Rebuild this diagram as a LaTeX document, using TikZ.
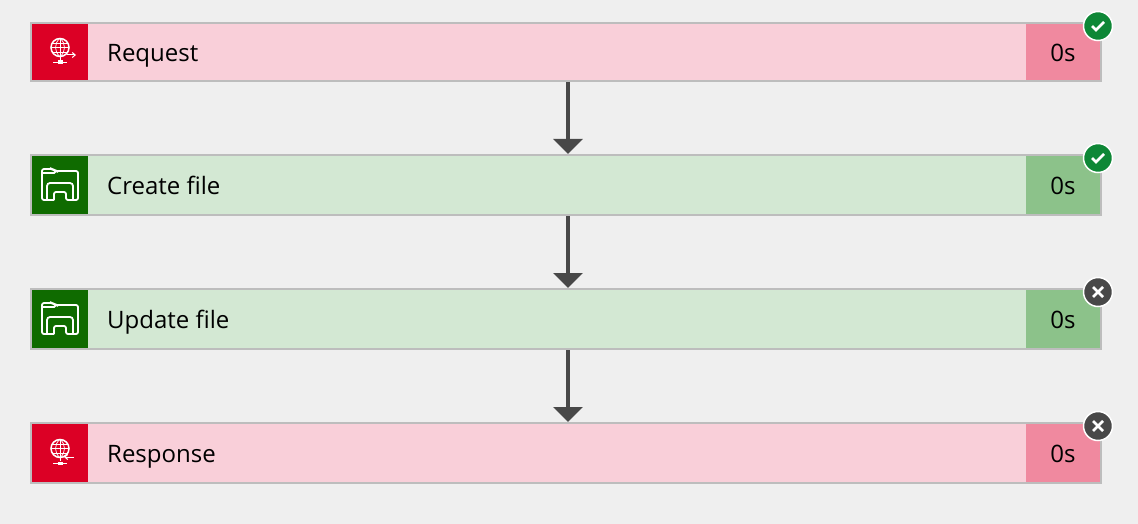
\documentclass[tikz,border=0pt]{standalone}
\usepackage{fontspec}
\setmainfont{Open Sans}
\usetikzlibrary{arrows.meta}
\definecolor{canvasgray}{HTML}{EFEFEF}
\definecolor{framegray}{HTML}{BDBDBD}
\definecolor{flowgray}{HTML}{484848}
\definecolor{barpink}{HTML}{F9CFD9}
\definecolor{timepink}{HTML}{F0899F}
\definecolor{iconred}{HTML}{DC0025}
\definecolor{bargreen}{HTML}{D3E8D3}
\definecolor{timegreen}{HTML}{8CC28A}
\definecolor{icongreen}{HTML}{0F6B00}
\definecolor{okgreen}{HTML}{0E8736}

\begin{document}
\begin{tikzpicture}[x=1pt,y=-1pt]
\tikzset{bar/.style = {shape=rectangle,draw=framegray,line width=2pt,minimum width=1070pt,inner sep=0pt}}
\tikzset{iconbox/.style = {shape=rectangle,minimum width=56pt,inner sep=0pt}}
\tikzset{timebox/.style = {shape=rectangle,minimum width=74pt,inner sep=0pt}}
\tikzset{caption/.style = {anchor=base west,inner sep=0pt,font=\fontsize{24}{28}\selectfont}}
\tikzset{timetext/.style = {anchor=base,inner sep=0pt,font=\fontsize{24}{28}\selectfont}}
\tikzset{badge/.style = {shape=circle,draw=white,line width=1.5pt,minimum size=29pt,inner sep=0pt}}
\tikzset{edge/.style = {draw=flowgray,line width=4pt,-{Triangle[width=29pt,length=15pt]}}}
\tikzset{glyph/.style = {draw=white,line width=1.3pt}}
\tikzset{globe/.pic = {
  \draw[glyph,line width=1.5pt] (0,-4.5) circle (9);
  \draw[glyph,line width=.7pt] (0,-13.5) -- (0,8) (-9,-4.5) -- (9,-4.5) (-7.5,-9) -- (7.5,-9) (-7.5,0) -- (7.5,0);
  \draw[glyph,line width=.7pt] (0,-13.5) .. controls (-6,-9) and (-6,0) .. (0,4.5);
  \draw[glyph,line width=.7pt] (0,-13.5) .. controls (6,-9) and (6,0) .. (0,4.5);
  \draw[glyph] (-7,10.5) -- (7,10.5);
  \fill[white] (-2.5,8.5) rectangle (2.5,12);
}}
\tikzset{folder/.pic = {
  \draw[glyph,line width=1.8pt,rounded corners=2pt] (-6,15) -- (-18,15) -- (-18,-16) -- (-7,-16) -- (-5,-14) -- (18,-14) -- (18,15) -- (6,15) -- (6,7) -- (-6,7) -- (-6,15);
  \draw[glyph,line width=1.8pt] (-18,-12) -- (-6,-12) -- (-4,-14);
  \draw[glyph,line width=1.8pt,rounded corners=3pt] (-13,15) -- (-13,-2) -- (13,-2) -- (13,15);
}}
\useasboundingbox[fill=canvasgray] (0,0) rectangle (1138,524);
% bars
\node[bar,minimum height=58pt,fill=barpink] (request) at (566,52) {};
\node[bar,minimum height=60pt,fill=bargreen] (create) at (566,185) {};
\node[bar,minimum height=60pt,fill=bargreen] (update) at (566,319) {};
\node[bar,minimum height=60pt,fill=barpink] (response) at (566,453) {};
% icon boxes
\node[iconbox,minimum height=56pt,fill=iconred] (requesticon) at (60,52) {};
\node[iconbox,minimum height=58pt,fill=icongreen] (createicon) at (60,185) {};
\node[iconbox,minimum height=58pt,fill=icongreen] (updateicon) at (60,319) {};
\node[iconbox,minimum height=58pt,fill=iconred] (responseicon) at (60,453) {};
% time boxes
\node[timebox,minimum height=56pt,fill=timepink] (requesttime) at (1063,52) {};
\node[timebox,minimum height=58pt,fill=timegreen] (createtime) at (1063,185) {};
\node[timebox,minimum height=58pt,fill=timegreen] (updatetime) at (1063,319) {};
\node[timebox,minimum height=58pt,fill=timepink] (responsetime) at (1063,453) {};
% texts
\node[caption] (requesttext) at (107,62) {Request};
\node[caption] (createtext) at (107,194) {Create file};
\node[caption] (updatetext) at (107,328) {Update file};
\node[caption] (responsetext) at (107,462) {Response};
\node[timetext] (requestsecs) at (1063,62) {0s};
\node[timetext] (createsecs) at (1063,194) {0s};
\node[timetext] (updatesecs) at (1063,328) {0s};
\node[timetext] (responsesecs) at (1063,462) {0s};
% icons
\pic at (requesticon.center) {globe};
\pic at (responseicon.center) {globe};
\pic at (createicon.center) {folder};
\pic at (updateicon.center) {folder};
\draw[glyph,line width=1pt,-{Straight Barb[length=3pt,width=5pt]}] (67,55) -- (76,55);
\draw[glyph,line width=1pt,-{Straight Barb[length=3pt,width=5pt]}] (74,457) -- (64,457);
% badges
\node[badge,fill=okgreen] (requestbadge) at (1098,26) {};
\node[badge,fill=okgreen] (createbadge) at (1098,158) {};
\node[badge,fill=flowgray] (updatebadge) at (1098,292) {};
\node[badge,fill=flowgray] (responsebadge) at (1098,426) {};
\draw[draw=white,line width=2.6pt] (1092,26) -- (1096,30) -- (1104,22);
\draw[draw=white,line width=2.6pt] (1092,158) -- (1096,162) -- (1104,154);
\draw[draw=white,line width=2.8pt] (1093,287) -- (1103,297) (1093,297) -- (1103,287);
\draw[draw=white,line width=2.8pt] (1093,421) -- (1103,431) (1093,431) -- (1103,421);
%edges
\draw[edge] ([xshift=2pt]request.south) to ([xshift=2pt]create.north);
\draw[edge] ([xshift=2pt]create.south) to ([xshift=2pt]update.north);
\draw[edge] ([xshift=2pt]update.south) to ([xshift=2pt]response.north);
\end{tikzpicture}
\end{document}
